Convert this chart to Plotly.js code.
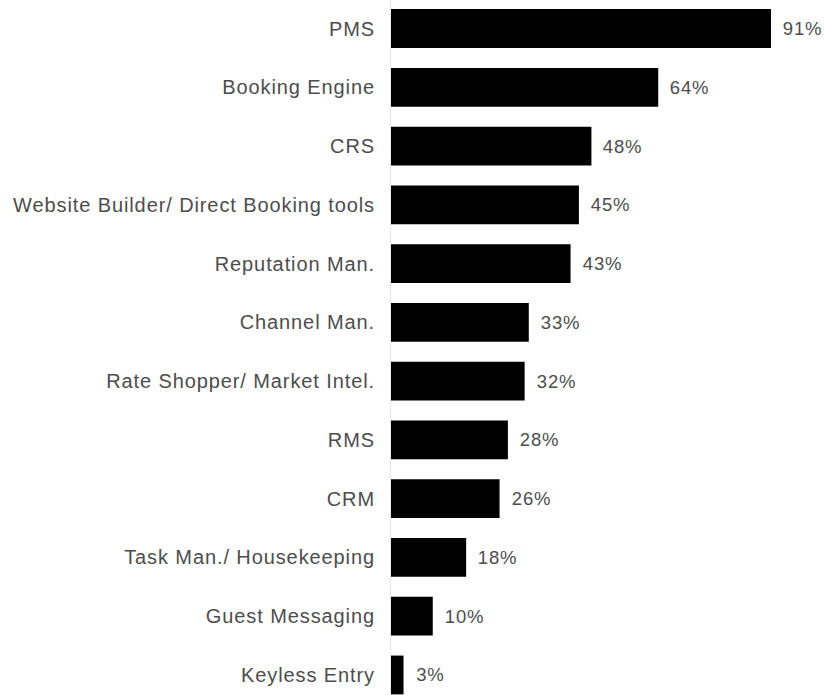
<!DOCTYPE html>
<html>
<head>
<meta charset="utf-8">
<script src="https://cdn.plot.ly/plotly-3.0.1.min.js"></script>
<style>
html,body{margin:0;padding:0;background:#fff;}
#chart{width:824px;height:695px;}
#chart .ytick text{letter-spacing:0.9px;}
#chart .annotation-text{letter-spacing:0.8px;}
</style>
</head>
<body>
<div id="chart"></div>
<script>
const categories = ["PMS","Booking Engine","CRS","Website Builder/ Direct Booking tools","Reputation Man.","Channel Man.","Rate Shopper/ Market Intel.","RMS","CRM","Task Man./ Housekeeping","Guest Messaging","Keyless Entry"];
const values = [91,64,48,45,43,33,32,28,26,18,10,3];
const labels = values.map(v => v + "%");

const trace = {
  type: "bar",
  orientation: "h",
  y: categories,
  x: values,
  marker: {color: "#000"},
  width: 0.66,
  hoverinfo: "none"
};

const annotations = values.map((v, i) => ({
  x: v, y: categories[i], xref: "x", yref: "y",
  text: labels[i], showarrow: false,
  xanchor: "left", yanchor: "middle", xshift: 11,
  font: {family: "Liberation Sans, Arial, sans-serif", size: 18.5, color: "#4d4d4d"}
}));

const layout = {
  width: 824, height: 695,
  margin: {l: 391, r: 0, t: 0, b: 0},
  paper_bgcolor: "#fff", plot_bgcolor: "#fff",
  showlegend: false,
  annotations: annotations,
  xaxis: {range: [0, 103.7], visible: false, fixedrange: true},
  yaxis: {
    type: "category",
    range: [11.341, -0.485],
    showgrid: false, zeroline: false,
    showline: true, linecolor: "#e8e8e8", linewidth: 1,
    ticks: "", ticklabelstandoff: 11,
    tickfont: {family: "Liberation Sans, Arial, sans-serif", size: 20, color: "#4d4d4d"}
  },
  font: {family: "Liberation Sans, Arial, sans-serif"}
};

Plotly.newPlot("chart", [trace], layout, {displayModeBar: false, staticPlot: true});
</script>
</body>
</html>
